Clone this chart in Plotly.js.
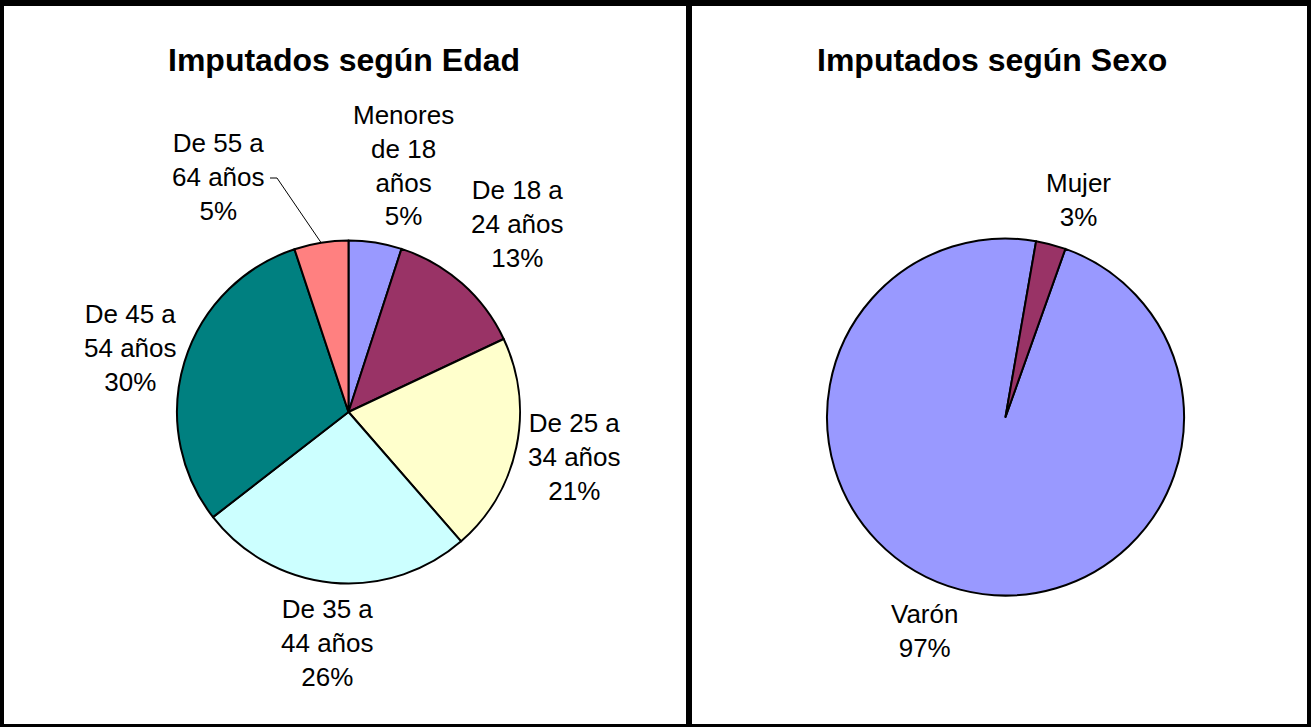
<!DOCTYPE html>
<html>
<head>
<meta charset="utf-8">
<script src="https://cdn.plot.ly/plotly-3.0.1.min.js"></script>
<style>
html,body{margin:0;padding:0;background:#fff;}
#chart{width:1311px;height:727px;}
</style>
</head>
<body>
<div id="chart"></div>
<script>
// ---- data ----
const ageTitle = "Imputados según Edad";
const ageCategories = ["Menores de 18 años", "De 18 a 24 años", "De 25 a 34 años", "De 35 a 44 años", "De 45 a 54 años", "De 55 a 64 años"];
const ageValues = [5, 13, 20.6, 25.9, 30.4, 5.1];
const ageColors = ["#9999FF", "#993366", "#FFFFCC", "#CCFFFF", "#008080", "#FF8080"];

const sexTitle = "Imputados según Sexo";
const sexCategories = ["Varón", "Mujer"];
const sexValues = [97.3, 2.7];
const sexColors = ["#9999FF", "#993366"];

// ---- layout constants ----
const W = 1311, H = 727;
const px = x => x / W;
const py = y => 1 - y / H;
const FONT = "Liberation Sans, Arial, Helvetica, sans-serif";

const agePie = {cx: 348.5, cy: 412, r: 171.5, rotation: 0};
const sexPie = {cx: 1005.5, cy: 417, r: 178.5, rotation: 19.6};
const ageLabelPos = [[403,165],[517,224],[574,457],[327,643],[130,348],[218,177]];
const sexLabelPos = [[925,631],[1078,200]];

function wrap(s, maxLen) {
  const words = s.split(" ");
  const lines = [];
  let cur = "";
  words.forEach(w => {
    if (cur === "") cur = w;
    else if ((cur + " " + w).length <= maxLen) cur += " " + w;
    else { lines.push(cur); cur = w; }
  });
  if (cur) lines.push(cur);
  return lines.join("<br>");
}
function pct(vals) {
  const s = vals.reduce((a, b) => a + b, 0);
  return vals.map(v => Math.round(v / s * 100) + "%");
}

function pieTrace(labels, values, colors, p) {
  return {
    type: "pie",
    labels: labels,
    values: values,
    sort: false,
    direction: "clockwise",
    rotation: p.rotation,
    textinfo: "none",
    hoverinfo: "label+percent",
    showlegend: false,
    marker: {colors: colors, line: {color: "#000", width: 2}},
    domain: {x: [px(p.cx - p.r), px(p.cx + p.r)], y: [py(p.cy + p.r), py(p.cy - p.r)]}
  };
}

const annotations = [];
function addLabels(cats, vals, pos) {
  const pc = pct(vals);
  cats.forEach((c, i) => {
    annotations.push({
      xref: "paper", yref: "paper",
      x: px(pos[i][0]), y: py(pos[i][1]),
      xanchor: "center", yanchor: "middle",
      text: wrap(c, 7) + "<br>" + pc[i],
      showarrow: false,
      align: "center",
      font: {family: FONT, size: 26, color: "#000"}
    });
  });
}
addLabels(ageCategories, ageValues, ageLabelPos);
addLabels(sexCategories, sexValues, sexLabelPos);

[[ageTitle, 344], [sexTitle, 992]].forEach(t => {
  annotations.push({
    xref: "paper", yref: "paper",
    x: px(t[1]), y: py(60),
    xanchor: "center", yanchor: "middle",
    text: "<b>" + t[0] + "</b>",
    showarrow: false,
    font: {family: FONT, size: 32, color: "#000"}
  });
});

// leader line for the last age slice, computed from pie geometry
const total = ageValues.reduce((a, b) => a + b, 0);
const lastIdx = ageValues.length - 1;
const midFrac = (total - ageValues[lastIdx] / 2) / total;
const ang = midFrac * 2 * Math.PI;
const ex = agePie.cx + agePie.r * Math.sin(ang);
const ey = agePie.cy - agePie.r * Math.cos(ang);

const shapes = [
  // frame borders
  {type: "rect", xref: "paper", yref: "paper", x0: 0, x1: 1, y0: py(6), y1: 1, fillcolor: "#000", line: {width: 0}},
  {type: "rect", xref: "paper", yref: "paper", x0: 0, x1: 1, y0: 0, y1: py(724), fillcolor: "#000", line: {width: 0}},
  {type: "rect", xref: "paper", yref: "paper", x0: 0, x1: px(4), y0: 0, y1: 1, fillcolor: "#000", line: {width: 0}},
  {type: "rect", xref: "paper", yref: "paper", x0: px(1307), x1: 1, y0: 0, y1: 1, fillcolor: "#000", line: {width: 0}},
  {type: "rect", xref: "paper", yref: "paper", x0: px(686), x1: px(692), y0: 0, y1: 1, fillcolor: "#000", line: {width: 0}},
  // leader line
  {type: "path", xref: "paper", yref: "paper",
   path: "M " + px(270) + " " + py(178) + " L " + px(277) + " " + py(178) + " L " + px(ex) + " " + py(ey),
   line: {color: "#000", width: 1}}
];

const layout = {
  width: W, height: H,
  margin: {l: 0, r: 0, t: 0, b: 0},
  paper_bgcolor: "#fff",
  plot_bgcolor: "#fff",
  showlegend: false,
  annotations: annotations,
  shapes: shapes,
  font: {family: FONT}
};

Plotly.newPlot("chart", [
  pieTrace(ageCategories, ageValues, ageColors, agePie),
  pieTrace(sexCategories, sexValues, sexColors, sexPie)
], layout, {displayModeBar: false, staticPlot: true});
</script>
</body>
</html>
